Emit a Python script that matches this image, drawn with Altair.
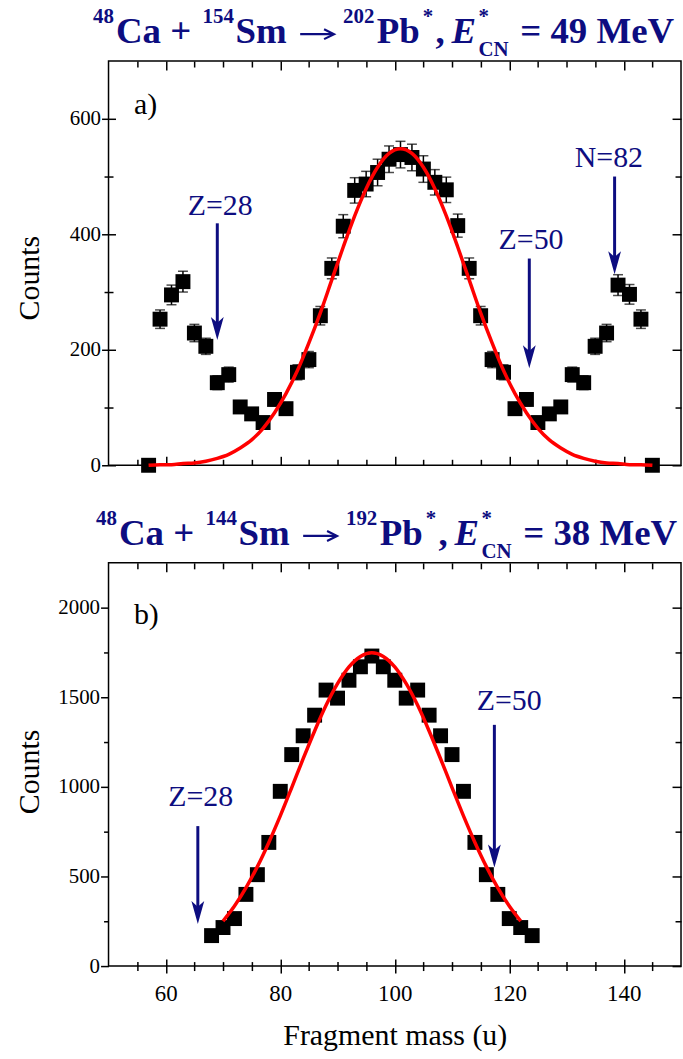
import altair as alt
import pandas as pd

FONT = "Liberation Serif"
NAVY = "#0d0d80"
RED = "#ff0000"

# ---------------- data ----------------
# panel a: 48Ca + 154Sm
mass_a = [57, 59, 61, 63, 65, 67, 69, 71, 73, 75, 77, 79, 81, 83, 85, 87, 89, 91, 93, 95, 97, 99,
          101, 103, 105, 107, 109, 111, 113, 115, 117, 119, 121, 123, 125, 127, 129, 131, 133, 135,
          137, 139, 141, 143, 145]
counts_a = [0, 253, 295, 318, 229, 206, 143, 157, 101, 89, 74, 114, 98, 161, 183, 259, 341, 414, 476, 487,
            507, 530, 538, 533, 513, 490, 477, 415, 341, 259, 183, 161, 98, 114, 74, 89, 101, 157, 143, 206,
            229, 312, 296, 253, 0]
err_a = [0, 16, 17, 18, 15, 14, 12, 13, 10, 9, 9, 11, 10, 13, 14, 16, 18, 20, 22, 22,
         23, 23, 23, 23, 23, 22, 22, 20, 18, 16, 14, 13, 10, 11, 9, 9, 10, 13, 12, 14,
         15, 18, 17, 16, 0]
fit_a = [0, 1, 1, 3, 4, 7, 12, 19, 30, 44, 64, 91, 124, 164, 212, 264, 321, 378, 432, 479,
         516, 540, 548, 540, 516, 479, 432, 378, 321, 264, 212, 164, 124, 91, 64, 44, 30, 19, 12, 7,
         4, 3, 1, 1, 0]

# panel b: 48Ca + 144Sm
mass_b = [68, 70, 72, 74, 76, 78, 80, 82, 84, 86, 88, 90, 92, 94, 96, 98, 100, 102, 104, 106,
          108, 110, 112, 114, 116, 118, 120, 122, 124]
counts_b = [170, 215, 265, 400, 510, 690, 975, 1180, 1285, 1400, 1540, 1495, 1595, 1670, 1730, 1670,
            1595, 1495, 1540, 1400, 1285, 1180, 975, 690, 510, 400, 265, 215, 170]
fit_mass_b = [70, 72, 74, 76, 78, 80, 82, 84, 86, 88, 90, 92, 94, 96, 98, 100, 102, 104, 106, 108,
              110, 112, 114, 116, 118, 120, 122]
fit_b = [251, 335, 436, 555, 690, 838, 996, 1157, 1312, 1455, 1576, 1670, 1728, 1748, 1728, 1670,
         1576, 1455, 1312, 1157, 996, 838, 690, 555, 436, 335, 251]

# shell-closure arrows
arrow_text_a = ["Z=28", "Z=50", "N=82"]
arrow_mass_a = [69.0, 123.5, 138.4]
arrow_top_a = [419, 358, 500]
arrow_tip_a = [217, 168, 331]
label_mass_a = [69.5, 123.8, 137.4]
label_count_a = [433, 375, 516]

arrow_text_b = ["Z=28", "Z=50"]
arrow_mass_b = [65.6, 117.4]
arrow_top_b = [781, 1346]
arrow_tip_b = [235, 550]
label_mass_b = [66.1, 120.0]
label_count_b = [892, 1430]

# axes
XDOM = [50, 150]
YDOM_A = [0, 700]
YDOM_B = [0, 2250]
X_MAJOR = [60, 80, 100, 120, 140]
X_MINOR = [55, 65, 70, 75, 85, 90, 95, 105, 110, 115, 125, 130, 135, 145]
YA_MAJOR = [0, 200, 400, 600]
YA_MINOR = [100, 300, 500]
YB_MAJOR = [0, 500, 1000, 1500, 2000]
YB_MINOR = [250, 750, 1250, 1750]

# titles: (text, kind, left x in page pixels); the reaction arrow is drawn as a line + head
TITLE_A = [("48", "sup", 92), ("Ca +", "main", 115), ("154", "sup", 202), ("Sm", "main", 235),
           ("202", "sup", 343), ("Pb", "main", 377), ("*", "sup", 423), (",", "main", 436),
           ("E", "ital", 452), ("*", "sup", 479), ("CN", "sub", 479), ("= 49 MeV", "main", 521)]
TITLE_B = [("48", "sup", 95), ("Ca +", "main", 118), ("144", "sup", 205), ("Sm", "main", 238),
           ("192", "sup", 346), ("Pb", "main", 380), ("*", "sup", 426), (",", "main", 439),
           ("E", "ital", 455), ("*", "sup", 482), ("CN", "sub", 482), ("= 38 MeV", "main", 524)]
REACTION_ARROW_A = (300, 334)
REACTION_ARROW_B = (303, 337)

W = 575
H_A = 406
H_B = 405
PLOT_LEFT = 107.5
ONE = pd.DataFrame({"k": [0]})
ARROW_PATH = "M0,1L-0.56,-1L0,-0.5L0.56,-1Z"
CHEVRON = "M-1,-1L1,0L-1,1"


def xenc(field, axis=None):
    return alt.X(f"{field}:Q", scale=alt.Scale(domain=XDOM, nice=False, zero=False), axis=axis)


def yenc(field, dom, axis=None):
    return alt.Y(f"{field}:Q", scale=alt.Scale(domain=dom, nice=False, zero=False), axis=axis)


def tick_axis(orient, values, size, offset, **kw):
    base = dict(orient=orient, values=values, tickSize=size, offset=offset, domain=False, grid=False,
                tickColor="black", tickWidth=1.5, labels=False, title=None)
    base.update(kw)
    return alt.Axis(**base)


def axes_layers(dom, ymaj, ymin, bottom_labels, left_cross):
    d = pd.DataFrame({"ax": [XDOM[0]], "ay": [dom[0]]})
    lab = dict(labels=True, labelFont=FONT, labelColor="black", labelOverlap=False, labelFlush=False,
               format="d")
    if bottom_labels:
        bmaj = tick_axis("bottom", X_MAJOR, 14, -7, labelFontSize=23, labelPadding=10,
                         title="Fragment mass (u)", titleFont=FONT, titleFontSize=30,
                         titleFontWeight="normal", titleColor="black", titlePadding=15, **lab)
        bmin = tick_axis("bottom", X_MINOR, 9, -4.5)
    else:
        bmaj = tick_axis("bottom", X_MAJOR, 9, -9)
        bmin = tick_axis("bottom", X_MINOR, 6, -6)
    if left_cross:
        lmaj = tick_axis("left", ymaj, 14, -7, labelFontSize=21, labelPadding=1, **lab)
        lmin = tick_axis("left", ymin, 9, -4.5)
    else:
        lmaj = tick_axis("left", ymaj, 8, 0, labelFontSize=21, labelPadding=1, **lab)
        lmin = tick_axis("left", ymin, 5, 0)
    tmaj = tick_axis("top", X_MAJOR, 9, -9)
    tmin = tick_axis("top", X_MINOR, 6, -6)
    rmaj = tick_axis("right", ymaj, 9, -9)
    rmin = tick_axis("right", ymin, 6, -6)
    pairs = [(bmaj, lmaj), (bmin, lmin), (tmaj, rmaj), (tmin, rmin)]
    return [alt.Chart(d).mark_point(opacity=0).encode(x=xenc("ax", xa), y=yenc("ay", dom, ya))
            for xa, ya in pairs]


def title_layers(pieces, arrow):
    out = []
    for text, kind, xabs in pieces:
        size = 37 if kind in ("main", "ital") else 21
        yrel = {"main": -18, "ital": -18, "sup": -38, "sub": -5}[kind]
        out.append(
            alt.Chart(ONE).mark_text(
                text=text, font=FONT, fontSize=size, fontWeight="bold",
                fontStyle="italic" if kind == "ital" else "normal",
                color=NAVY, align="left", baseline="alphabetic"
            ).encode(x=alt.value(xabs - PLOT_LEFT), y=alt.value(yrel))
        )
    x1, x2 = arrow
    ya = -27
    out.append(alt.Chart(ONE).mark_rule(color=NAVY, strokeWidth=2.2).encode(
        x=alt.value(x1 - PLOT_LEFT), x2=alt.value(x2 - PLOT_LEFT - 1), y=alt.value(ya)))
    out.append(alt.Chart(ONE).mark_point(shape=CHEVRON, size=100, filled=False, color=NAVY,
                                         strokeWidth=2.2, opacity=1).encode(
        x=alt.value(x2 - PLOT_LEFT - 5), y=alt.value(ya)))
    return out


def panel(mass, counts, err, fmass, fit, dom, ymaj, ymin, arrows, title, rarrow, letter, letter_y,
          counts_y, bottom_labels, left_cross, height):
    layers = axes_layers(dom, ymaj, ymin, bottom_labels, left_cross)
    if err is not None:
        df_e = pd.DataFrame({"m": mass, "lo": [c - e for c, e in zip(counts, err)],
                             "hi": [c + e for c, e in zip(counts, err)]})
        layers.append(alt.Chart(df_e).mark_rule(color="black", strokeWidth=1.5).encode(
            x=xenc("m"), y=yenc("lo", dom), y2="hi:Q"))
        for f in ("lo", "hi"):
            layers.append(alt.Chart(df_e).mark_tick(orient="horizontal", size=10, thickness=1.5,
                                                    color="black").encode(x=xenc("m"), y=yenc(f, dom)))
    df_p = pd.DataFrame({"m": mass, "c": counts})
    layers.append(alt.Chart(df_p).mark_square(size=225, color="black", opacity=1).encode(
        x=xenc("m"), y=yenc("c", dom)))
    df_f = pd.DataFrame({"m": fmass, "c": fit})
    layers.append(alt.Chart(df_f).mark_line(color=RED, strokeWidth=3.5, interpolate="monotone").encode(
        x=xenc("m"), y=yenc("c", dom)))
    at, am, atop, atip, lm, lc = arrows
    df_a = pd.DataFrame({"t": at, "m": am, "top": atop, "tip": atip, "lm": lm, "lc": lc})
    layers.append(alt.Chart(df_a).mark_rule(color=NAVY, strokeWidth=3, y2Offset=-10).encode(
        x=xenc("m"), y=yenc("top", dom), y2="tip:Q"))
    layers.append(alt.Chart(df_a).mark_point(shape=ARROW_PATH, size=529, filled=True, color=NAVY,
                                             opacity=1, strokeWidth=0, yOffset=-11.5).encode(
        x=xenc("m"), y=yenc("tip", dom)))
    layers.append(alt.Chart(df_a).mark_text(font=FONT, fontSize=30, color=NAVY, align="center",
                                            baseline="alphabetic").encode(
        x=xenc("lm"), y=yenc("lc", dom), text="t:N"))
    layers.append(alt.Chart(ONE).mark_text(text=letter, font=FONT, fontSize=30, color="black",
                                           align="left", baseline="alphabetic").encode(
        x=alt.value(25.5), y=alt.value(letter_y)))
    layers.append(alt.Chart(ONE).mark_text(text="Counts", font=FONT, fontSize=30, color="black",
                                           align="center", baseline="alphabetic", angle=270).encode(
        x=alt.value(-69.5), y=alt.value(counts_y)))
    layers += title_layers(title, rarrow)
    return alt.layer(*layers).resolve_axis(x="independent", y="independent").properties(
        width=W, height=height)


pa = panel(mass_a, counts_a, err_a, mass_a, fit_a, YDOM_A, YA_MAJOR, YA_MINOR,
           (arrow_text_a, arrow_mass_a, arrow_top_a, arrow_tip_a, label_mass_a, label_count_a),
           TITLE_A, REACTION_ARROW_A, "a)", 53.3, 218, False, True, H_A)
pb = panel(mass_b, counts_b, None, fit_mass_b, fit_b, YDOM_B, YB_MAJOR, YB_MINOR,
           (arrow_text_b, arrow_mass_b, arrow_top_b, arrow_tip_b, label_mass_b, label_count_b),
           TITLE_B, REACTION_ARROW_B, "b)", 61.3, 210, True, False, H_B)

chart = alt.vconcat(pa, pb, spacing=31).properties(
    padding={"left": 14, "top": 3, "right": 0, "bottom": 0}
).configure_view(stroke="black", strokeWidth=1.5)

chart.save("out.html", embed_options={"renderer": "svg", "actions": False})
